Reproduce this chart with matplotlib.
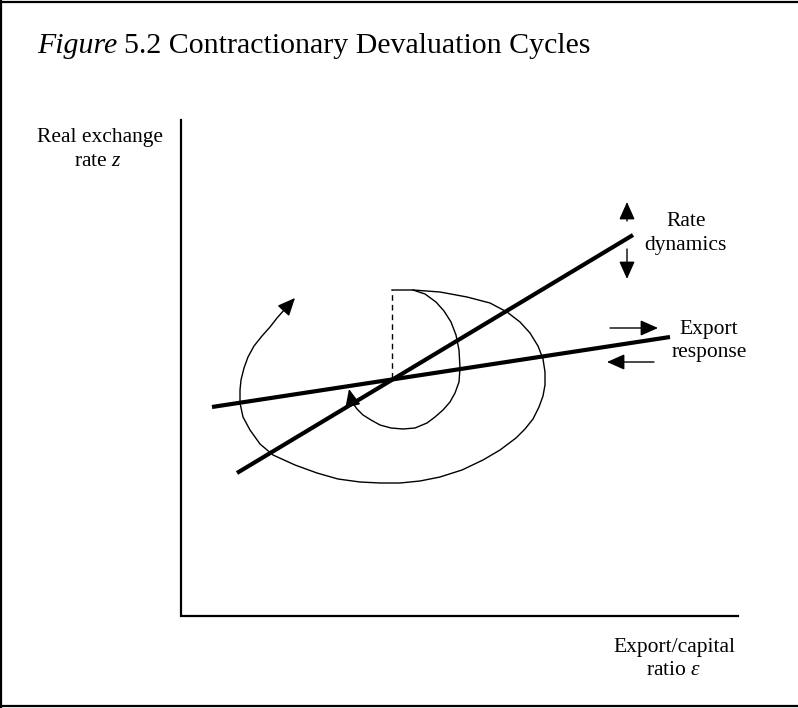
import matplotlib
matplotlib.use("Agg")
import matplotlib.pyplot as plt

plt.rcParams['font.family'] = ['Liberation Serif', 'DejaVu Serif']
plt.rcParams['mathtext.fontset'] = 'custom'
plt.rcParams['mathtext.rm'] = 'Liberation Serif'
plt.rcParams['mathtext.it'] = 'Liberation Serif:italic'

# Coordenadas (pixeles, y hacia abajo)
axis_x = [181, 181, 738]
axis_y = [120, 616, 616]

rate_line_x = [237, 633]
rate_line_y = [473, 235]

export_line_x = [212, 670]
export_line_y = [407, 337]

dashed_x = [392, 392]
dashed_y = [378, 290]

# espiral exterior (diverge)
outer_x = [392, 413, 440, 467, 490, 507, 520, 530, 538, 543, 545, 545, 543, 539, 533,
           525, 516, 500, 483, 462, 440, 420, 400, 380, 360, 338, 317, 295, 273, 260,
           250, 243, 240, 240, 241, 244, 248, 254, 262, 270, 277, 285]
outer_y = [290, 290, 292, 297, 303, 312, 322, 333, 346, 359, 372, 385, 396, 407, 419,
           429, 438, 450, 460, 470, 477, 481, 483, 483, 482, 479, 473, 465, 455, 444,
           430, 417, 403, 390, 380, 368, 357, 346, 336, 327, 318, 309]

# espiral interior (converge)
inner_x = [413, 425, 436, 444, 451, 456, 459, 460, 459, 455, 450, 443, 435, 427, 415,
           403, 391, 380, 371, 363, 357, 352]
inner_y = [290, 294, 302, 311, 322, 335, 350, 368, 382, 393, 402, 410, 417, 423, 428,
           429, 428, 425, 420, 415, 409, 402]

fig = plt.figure(figsize=(7.98, 7.08), dpi=100)
ax = fig.add_axes([0, 0, 1, 1])
ax.set_xlim(0, 798)
ax.set_ylim(708, 0)
ax.axis('off')

# marco
ax.plot([0, 798], [2, 2], color='black', lw=1.6)
ax.plot([1, 1], [0, 708], color='black', lw=1.6)
ax.plot([0, 798], [706, 706], color='black', lw=1.6)

# ejes
ax.plot(axis_x, axis_y, color='black', lw=1.6, solid_joinstyle='miter')

# lineas gruesas
ax.plot(rate_line_x, rate_line_y, color='black', lw=3.0, solid_capstyle='butt')
ax.plot(export_line_x, export_line_y, color='black', lw=3.0, solid_capstyle='butt')

# linea punteada
ax.plot(dashed_x, dashed_y, color='black', lw=1.0, linestyle=(0, (4, 3)))

# espirales
ax.plot(outer_x, outer_y, color='black', lw=1.0, solid_joinstyle='round')
ax.plot(inner_x, inner_y, color='black', lw=1.0, solid_joinstyle='round')

head = dict(arrowstyle='-|>,head_length=0.9,head_width=0.4', color='black', lw=1.0,
            shrinkA=0, shrinkB=0, mutation_scale=12)
ax.annotate('', xy=(295, 298), xytext=(outer_x[-1], outer_y[-1]), arrowprops=head)
ax.annotate('', xy=(349, 389), xytext=(inner_x[-1], inner_y[-1]), arrowprops=head)

# flechas de las etiquetas
ax.annotate('', xy=(627, 202), xytext=(627, 221), arrowprops=head)
ax.annotate('', xy=(627, 279), xytext=(627, 249), arrowprops=head)
ax.annotate('', xy=(658, 328), xytext=(610, 328), arrowprops=head)
ax.annotate('', xy=(607, 362), xytext=(654, 362), arrowprops=head)

# titulo
t1 = ax.text(37, 53, 'Figure', fontsize=21.5, style='italic', va='baseline', ha='left')
fig.canvas.draw()
bb = t1.get_window_extent()
ax.text(bb.x1 + 7, 53, '5.2 Contractionary Devaluation Cycles', fontsize=21.5,
        va='baseline', ha='left')

lab = dict(fontsize=15.5, ha='center', va='baseline')
ax.text(100, 142, 'Real exchange', **lab)
ax.text(98, 166, 'rate $z$', **lab)
ax.text(686, 226, 'Rate', **lab)
ax.text(685, 250, 'dynamics', **lab)
ax.text(709, 334, 'Export', **lab)
ax.text(709, 357, 'response', **lab)
ax.text(674, 652, 'Export/capital', **lab)
ax.text(674, 675, r'ratio $\varepsilon$', **lab)

fig.savefig('out.png', dpi=100)
